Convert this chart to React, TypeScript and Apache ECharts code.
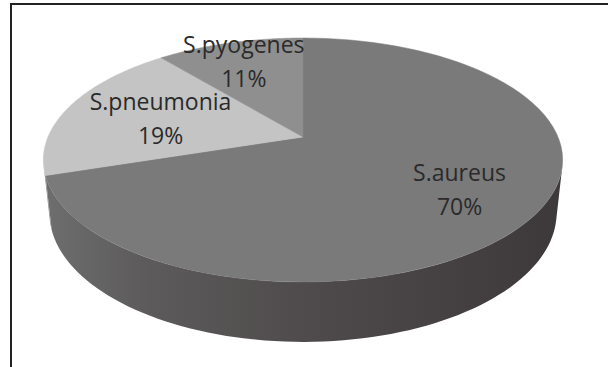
import React, { useEffect, useRef } from "react";
import * as echarts from "echarts";

const categories = ["S.aureus", "S.pneumonia", "S.pyogenes"];
const values = [70, 19, 11];
const topColors = ["#7a7a7a", "#c4c4c4", "#8f8f8f"];
const labelRadius = [0.7, 0.6, 0.78];

// perspective "camera" for the 3D pie
const CX = 303;
const CY = 137;
const FOCAL = 1200;
const DIST = 4.706;
const SIN = 0.4614;
const COS = 0.887;
const THICK = 0.236;

function proj(X: number, Y: number, Z: number): number[] {
  const depth = DIST + Z * COS - Y * SIN;
  return [CX + (FOCAL * X) / depth, CY - (FOCAL * (Y * COS + Z * SIN)) / depth];
}

export default function App() {
  const ref = useRef<HTMLDivElement>(null);
  useEffect(() => {
    document.body.style.margin = "0";
    const chart = echarts.init(ref.current!, null, { renderer: "svg" });
    const total = values.reduce((a, b) => a + b, 0);
    const visLo = Math.acos(-1 / (DIST * COS));
    const visHi = 2 * Math.PI - visLo;

    const renderItem = (params: any, api: any) => {
      const i = params.dataIndex;
      let before = 0;
      for (let k = 0; k < i; k++) before += values[k];
      const v = api.value(0);
      const a1 = (before / total) * 2 * Math.PI;
      const a2 = ((before + v) / total) * 2 * Math.PI;
      const children: any[] = [];
      const N = 80;
      // wall
      const lo = Math.max(a1, visLo);
      const hi = Math.min(a2, visHi);
      if (hi > lo) {
        const pts: number[][] = [];
        for (let s = 0; s <= N; s++) {
          const t = lo + ((hi - lo) * s) / N;
          pts.push(proj(Math.sin(t), 0, Math.cos(t)));
        }
        for (let s = N; s >= 0; s--) {
          const t = lo + ((hi - lo) * s) / N;
          pts.push(proj(Math.sin(t), -THICK, Math.cos(t)));
        }
        const fill =
          i === 0
            ? new echarts.graphic.LinearGradient(1, 0, 0, 0, [
                { offset: 0, color: "#3d393a" },
                { offset: 0.45, color: "#4d494a" },
                { offset: 0.8, color: "#5c5a5a" },
                { offset: 1, color: "#6e6e6e" },
              ])
            : "#8a8a8a";
        children.push({
          type: "polygon",
          shape: { points: pts },
          style: { fill, stroke: null },
        });
      }
      // top face
      const top: number[][] = [proj(0, 0, 0)];
      for (let s = 0; s <= N; s++) {
        const t = a1 + ((a2 - a1) * s) / N;
        top.push(proj(Math.sin(t), 0, Math.cos(t)));
      }
      children.push({
        type: "polygon",
        shape: { points: top },
        style: { fill: topColors[i], stroke: topColors[i], lineWidth: 0.5 },
      });
      // label
      const mid = (a1 + a2) / 2;
      const r = labelRadius[i];
      const lp = proj(r * Math.sin(mid), 0, r * Math.cos(mid));
      const pct = Math.round((v / total) * 100);
      children.push({
        type: "text",
        z2: 10,
        style: {
          text: categories[i] + "\n" + pct + "%",
          x: lp[0],
          y: lp[1],
          align: "center",
          verticalAlign: "middle",
          fontFamily: "Open Sans",
          fontSize: 23,
          lineHeight: 34,
          fill: "#2a2a2a",
        },
      });
      return { type: "group", children };
    };

    chart.setOption({
      animation: false,
      backgroundColor: "#ffffff",
      series: [
        {
          type: "custom",
          coordinateSystem: "none",
          renderItem,
          data: values.map((v, i) => ({ name: categories[i], value: [v] })),
        },
      ],
      graphic: [
        {
          type: "polyline",
          shape: { points: [[11, 367], [11, 4], [608, 4]] },
          style: { stroke: "#222222", lineWidth: 2, fill: null },
          z: 100,
        },
      ],
    });
    return () => chart.dispose();
  }, []);
  return (
    <div
      ref={ref}
      style={{ position: "fixed", left: 0, top: 0, width: 608, height: 367 }}
    />
  );
}
